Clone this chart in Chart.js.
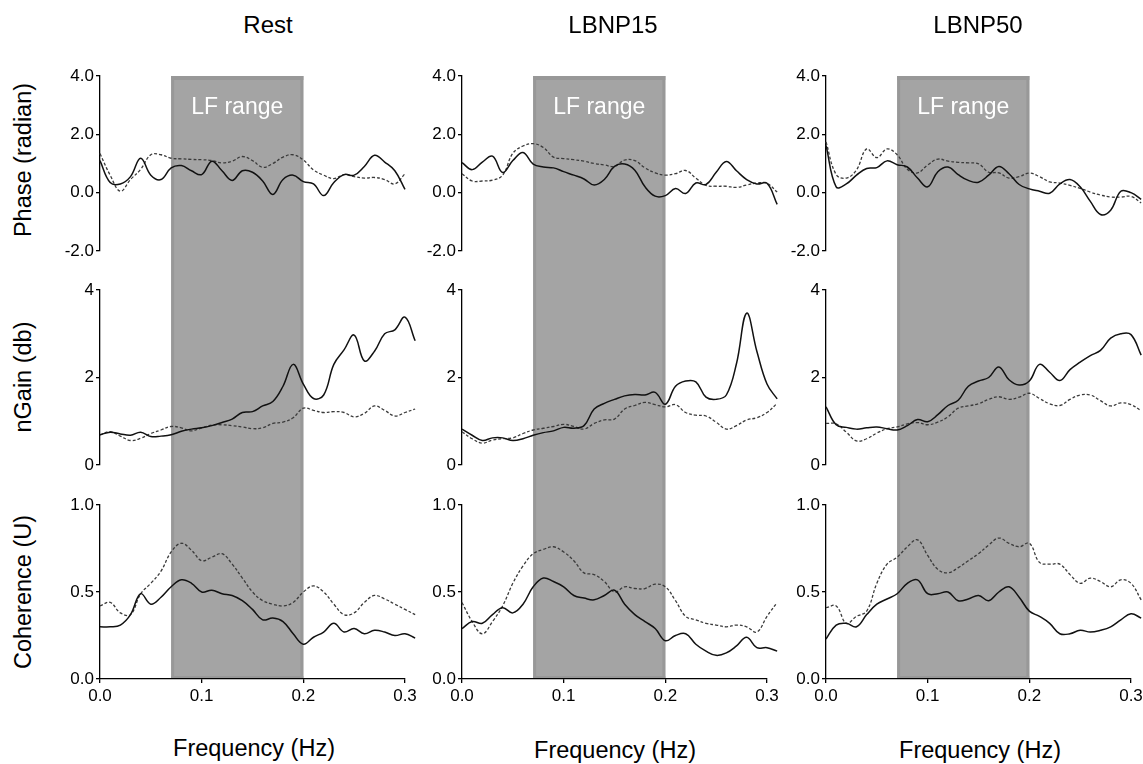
<!DOCTYPE html>
<html>
<head>
<meta charset="utf-8">
<script src="https://cdn.jsdelivr.net/npm/chart.js@4.4.1/dist/chart.umd.min.js"></script>
<style>
  body { margin: 0; width: 1143px; height: 764px; overflow: hidden; position: relative; background: #fff;
         font-family: "Liberation Sans", Arial, sans-serif; color: #000; }
  canvas { position: absolute; }
  .lbl { position: absolute; white-space: nowrap; transform: translate(-50%, -50%); }
  .rot { transform: translate(-50%, -50%) rotate(-90deg); }
</style>
</head>
<body>
<script>
// frequency axis (Hz) and tick labels
const freq = [0.00, 0.01, 0.02, 0.03, 0.04, 0.05, 0.06, 0.07, 0.08, 0.09, 0.10, 0.11, 0.12, 0.13, 0.14, 0.15,
              0.16, 0.17, 0.18, 0.19, 0.20, 0.21, 0.22, 0.23, 0.24, 0.25, 0.26, 0.27, 0.28, 0.29, 0.30, 0.31];
const conditions = ['Rest', 'LBNP15', 'LBNP50'];
const measures = ['Phase (radian)', 'nGain (db)', 'Coherence (U)'];
const freqTicks = [0, 0.1, 0.2, 0.3];
const phaseTicks = [-2, 0, 2, 4];
const gainTicks = [0, 2, 4];
const cohTicks = [0, 0.5, 1];
const lfRange = [0.07, 0.2];

// Rest (1 = solid, 2 = dashed)
const restPhase1 = [1.1, 0.35, 0.3, 0.55, 1.18, 0.6, 0.45, 0.85, 0.93, 0.75, 0.62, 1.08, 0.75, 0.42, 0.75, 0.7,
                    0.4, -0.06, 0.45, 0.6, 0.38, 0.3, -0.1, 0.35, 0.62, 0.6, 0.9, 1.28, 1.05, 0.75, 0.11, null];
const restPhase2 = [1.34, 0.6, 0.05, 0.45, 0.8, 1.3, 1.3, 1.18, 1.16, 1.14, 1.13, 1.1, 1.02, 1.08, 1.24, 1.1,
                    0.87, 1.0, 1.22, 1.3, 1.12, 0.78, 0.6, 0.48, 0.62, 0.55, 0.5, 0.52, 0.45, 0.3, 0.65, null];
const restGain1 = [0.69, 0.75, 0.71, 0.68, 0.75, 0.65, 0.66, 0.69, 0.77, 0.82, 0.85, 0.9, 0.97, 1.05, 1.2, 1.22,
                   1.35, 1.45, 1.8, 2.3, 1.85, 1.52, 1.6, 2.3, 2.63, 2.97, 2.38, 2.6, 3.0, 3.09, 3.38, 2.84];
const restGain2 = [0.69, 0.76, 0.66, 0.56, 0.61, 0.72, 0.8, 0.88, 0.85, 0.78, 0.85, 0.91, 0.92, 0.9, 0.87, 0.83,
                   0.85, 0.95, 0.98, 1.08, 1.3, 1.25, 1.2, 1.22, 1.2, 1.1, 1.18, 1.35, 1.25, 1.12, 1.2, 1.28];
const restCoh1 = [0.30, 0.30, 0.31, 0.37, 0.49, 0.43, 0.47, 0.53, 0.57, 0.55, 0.5, 0.51, 0.49, 0.48, 0.45, 0.40,
                  0.34, 0.35, 0.33, 0.26, 0.2, 0.24, 0.27, 0.32, 0.27, 0.29, 0.26, 0.28, 0.27, 0.25, 0.26, 0.235];
const restCoh2 = [0.42, 0.44, 0.38, 0.37, 0.49, 0.55, 0.62, 0.73, 0.78, 0.74, 0.68, 0.7, 0.72, 0.66, 0.58, 0.5,
                  0.45, 0.43, 0.42, 0.44, 0.5, 0.535, 0.5, 0.43, 0.37, 0.38, 0.44, 0.48, 0.46, 0.43, 0.4, 0.37];

// LBNP15
const l15Phase1 = [1.03, 0.79, 1.05, 1.25, 0.69, 1.1, 1.38, 0.98, 0.88, 0.85, 0.72, 0.6, 0.47, 0.26, 0.45, 0.9,
                   0.98, 0.77, 0.2, -0.12, -0.1, 0.14, -0.03, 0.33, 0.28, 0.7, 1.07, 0.75, 0.45, 0.3, 0.32, -0.4];
const l15Phase2 = [0.65, 0.4, 0.4, 0.43, 0.6, 1.35, 1.6, 1.68, 1.55, 1.22, 1.17, 1.13, 1.08, 1.0, 0.95, 0.9,
                   1.12, 1.1, 0.85, 0.68, 0.6, 0.65, 0.76, 0.5, 0.25, 0.22, 0.22, 0.18, 0.26, 0.33, 0.32, 0.02];
const l15Gain1 = [0.82, 0.68, 0.56, 0.62, 0.62, 0.56, 0.6, 0.68, 0.74, 0.78, 0.86, 0.84, 0.9, 1.28, 1.41, 1.5,
                  1.58, 1.61, 1.6, 1.66, 1.39, 1.8, 1.92, 1.9, 1.55, 1.5, 1.6, 2.32, 3.47, 2.6, 1.85, 1.51];
const l15Gain2 = [0.76, 0.6, 0.5, 0.57, 0.6, 0.62, 0.72, 0.8, 0.84, 0.88, 0.93, 0.88, 0.82, 0.95, 1.03, 1.05,
                  1.28, 1.36, 1.43, 1.38, 1.33, 1.38, 1.2, 1.14, 1.12, 0.98, 0.82, 0.9, 1.03, 1.08, 1.2, 1.41];
const l15Coh1 = [0.29, 0.33, 0.32, 0.37, 0.41, 0.38, 0.43, 0.53, 0.58, 0.56, 0.53, 0.48, 0.465, 0.455, 0.48, 0.51,
                 0.43, 0.37, 0.33, 0.29, 0.22, 0.25, 0.26, 0.2, 0.16, 0.136, 0.15, 0.19, 0.24, 0.18, 0.18, 0.16];
const l15Coh2 = [0.44, 0.33, 0.26, 0.33, 0.42, 0.55, 0.65, 0.72, 0.745, 0.76, 0.73, 0.68, 0.61, 0.6, 0.56, 0.5,
                 0.53, 0.52, 0.52, 0.545, 0.53, 0.45, 0.36, 0.34, 0.32, 0.31, 0.3, 0.31, 0.3, 0.27, 0.36, 0.44];

// LBNP50
const l50Phase1 = [1.62, 0.2, 0.3, 0.6, 0.83, 0.86, 1.09, 0.96, 0.88, 0.5, 0.2, 0.72, 0.88, 0.62, 0.42, 0.36,
                   0.6, 0.9, 0.65, 0.28, 0.13, 0.05, -0.02, 0.3, 0.45, 0.2, -0.3, -0.75, -0.6, 0.05, 0.0, -0.23];
const l50Phase2 = [1.74, 0.62, 0.5, 0.78, 1.5, 1.2, 1.5, 1.3, 0.8, 0.68, 0.95, 1.15, 1.08, 1.04, 1.02, 0.99,
                   0.7, 0.68, 0.5, 0.55, 0.67, 0.55, 0.37, 0.33, 0.25, 0.15, 0.02, -0.08, -0.15, -0.15, -0.13, -0.35];
const l50Gain1 = [1.33, 0.92, 0.86, 0.82, 0.85, 0.87, 0.83, 0.8, 0.9, 1.04, 0.99, 1.15, 1.36, 1.48, 1.8, 1.92,
                  2.0, 2.24, 1.95, 1.83, 1.92, 2.3, 2.12, 1.93, 2.18, 2.35, 2.5, 2.62, 2.9, 3.0, 2.98, 2.51];
const l50Gain2 = [0.95, 0.94, 0.75, 0.55, 0.6, 0.73, 0.83, 0.87, 0.94, 0.97, 0.92, 0.98, 1.1, 1.3, 1.35, 1.4,
                  1.5, 1.56, 1.5, 1.55, 1.64, 1.52, 1.4, 1.36, 1.5, 1.6, 1.6, 1.47, 1.35, 1.42, 1.38, 1.24];
const l50Coh1 = [0.23, 0.31, 0.32, 0.3, 0.37, 0.43, 0.46, 0.49, 0.55, 0.57, 0.49, 0.49, 0.5, 0.45, 0.46, 0.48,
                 0.45, 0.5, 0.53, 0.47, 0.39, 0.36, 0.32, 0.26, 0.26, 0.28, 0.27, 0.28, 0.3, 0.34, 0.375, 0.35];
const l50Coh2 = [0.41, 0.42, 0.32, 0.36, 0.39, 0.55, 0.66, 0.7, 0.76, 0.8, 0.71, 0.63, 0.61, 0.64, 0.68, 0.72,
                 0.77, 0.81, 0.78, 0.76, 0.78, 0.67, 0.66, 0.66, 0.6, 0.55, 0.58, 0.56, 0.53, 0.57, 0.55, 0.455];

const panels = [
  [[restPhase1, restPhase2], [l15Phase1, l15Phase2], [l50Phase1, l50Phase2]],
  [[restGain1, restGain2], [l15Gain1, l15Gain2], [l50Gain1, l50Gain2]],
  [[restCoh1, restCoh2], [l15Coh1, l15Coh2], [l50Coh1, l50Coh2]]
];
const rowTicks = [phaseTicks, gainTicks, cohTicks];
const rowDecimals = [1, 0, 1];

// layout (px)
const axisX = [100, 462, 826];
const rows = [
  { top: 40, h: 230, padTop: 36, padBottom: 19 },
  { top: 270, h: 215, padTop: 20, padBottom: 20 },
  { top: 485, h: 235, padTop: 20, padBottom: 0 }
];
const FONT = '"Liberation Sans", Arial, sans-serif';
Chart.defaults.font.family = FONT;
Chart.defaults.color = '#000';

// gray LF band, continuous across the rows of a column
const lfBand = {
  id: 'lfBand',
  beforeDraw(chart, args, opts) {
    const { ctx, chartArea, scales } = chart;
    const x0 = scales.x.getPixelForValue(lfRange[0]);
    const x1 = scales.x.getPixelForValue(lfRange[1]);
    const top = opts.row === 0 ? chartArea.top : 0;
    const bottom = opts.row === 2 ? chartArea.bottom : chart.height;
    ctx.save();
    ctx.fillStyle = '#a4a4a4';
    ctx.fillRect(x0, top, x1 - x0, bottom - top);
    ctx.fillStyle = '#989898';
    ctx.fillRect(x0, top, 3, bottom - top);
    ctx.fillRect(x1 - 3, top, 3, bottom - top);
    if (opts.row === 0) {
      ctx.fillRect(x0, top, x1 - x0, 4);
      ctx.fillStyle = '#fff';
      ctx.font = '23px ' + FONT;
      ctx.textAlign = 'center';
      ctx.textBaseline = 'middle';
      ctx.fillText('LF range', (x0 + x1) / 2, top + 32);
    }
    if (opts.row === 2) {
      ctx.fillRect(x0, bottom - 3, x1 - x0, 3);
    }
    ctx.restore();
  }
};

function addText(txt, x, y, size, rotate) {
  const d = document.createElement('div');
  d.className = 'lbl' + (rotate ? ' rot' : '');
  d.style.left = x + 'px';
  d.style.top = y + 'px';
  d.style.fontSize = size + 'px';
  d.textContent = txt;
  document.body.appendChild(d);
}

rows.forEach((r, ri) => {
  axisX.forEach((ax, ci) => {
    const cv = document.createElement('canvas');
    cv.width = 385;
    cv.height = r.h;
    cv.style.left = (ax - 60) + 'px';
    cv.style.top = r.top + 'px';
    document.body.appendChild(cv);

    const [s1, s2] = panels[ri][ci];
    const pts = s => freq.map((f, i) => ({ x: f, y: s[i] }));
    const ticks = rowTicks[ri];
    const dec = rowDecimals[ri];

    new Chart(cv, {
      type: 'line',
      data: {
        datasets: [
          { data: pts(s1), borderColor: '#111', borderWidth: 1.5, pointRadius: 0, tension: 0.4, clip: false },
          { data: pts(s2), borderColor: '#3a3a3a', borderWidth: 1.3, borderDash: [3, 2], pointRadius: 0, tension: 0.4, clip: false }
        ]
      },
      options: {
        responsive: false,
        animation: false,
        devicePixelRatio: 1,
        layout: { padding: { top: r.padTop, bottom: r.padBottom, left: 0, right: 20 } },
        plugins: { legend: { display: false }, tooltip: { enabled: false }, lfBand: { row: ri } },
        scales: {
          x: {
            type: 'linear',
            display: ri === 2,
            // range set after data limits so the last sample past 0.3 Hz is still drawn
            afterDataLimits: s => { s.min = freqTicks[0]; s.max = freqTicks[freqTicks.length - 1]; },
            afterBuildTicks: s => {
              s.ticks = freqTicks.map(v => ({ value: v }));
              s.min = freqTicks[0];
              s.max = freqTicks[freqTicks.length - 1];
            },
            afterFit: s => { if (ri === 2) s.height = 41; },
            border: { display: true, color: '#000', width: 1.3 },
            grid: { display: true, drawOnChartArea: false, drawTicks: true, tickLength: 4, color: '#000', lineWidth: 1.3 },
            ticks: { font: { size: 17 }, padding: 3, maxRotation: 0, callback: v => v.toFixed(1) }
          },
          y: {
            min: ticks[0],
            max: ticks[ticks.length - 1],
            afterBuildTicks: s => { s.ticks = ticks.map(v => ({ value: v })); },
            afterFit: s => { s.width = 60; },
            border: { display: true, color: '#000', width: 1.3 },
            grid: { display: true, drawOnChartArea: false, drawTicks: true, tickLength: 4, color: '#000', lineWidth: 1.3 },
            ticks: { font: { size: 17 }, padding: 2, callback: v => v.toFixed(dec) }
          }
        }
      },
      plugins: [lfBand]
    });
  });
});

// titles
addText(conditions[0], 268, 25, 24);
addText(conditions[1], 613, 25, 24);
addText(conditions[2], 978, 25, 24);
addText(measures[0], 23, 160, 23.5, true);
addText(measures[1], 23, 377, 23.5, true);
addText(measures[2], 23, 592, 23.5, true);
addText('Frequency (Hz)', 254, 748, 23.5);
addText('Frequency (Hz)', 615, 750, 23.5);
addText('Frequency (Hz)', 980, 750, 23.5);
</script>
</body>
</html>
